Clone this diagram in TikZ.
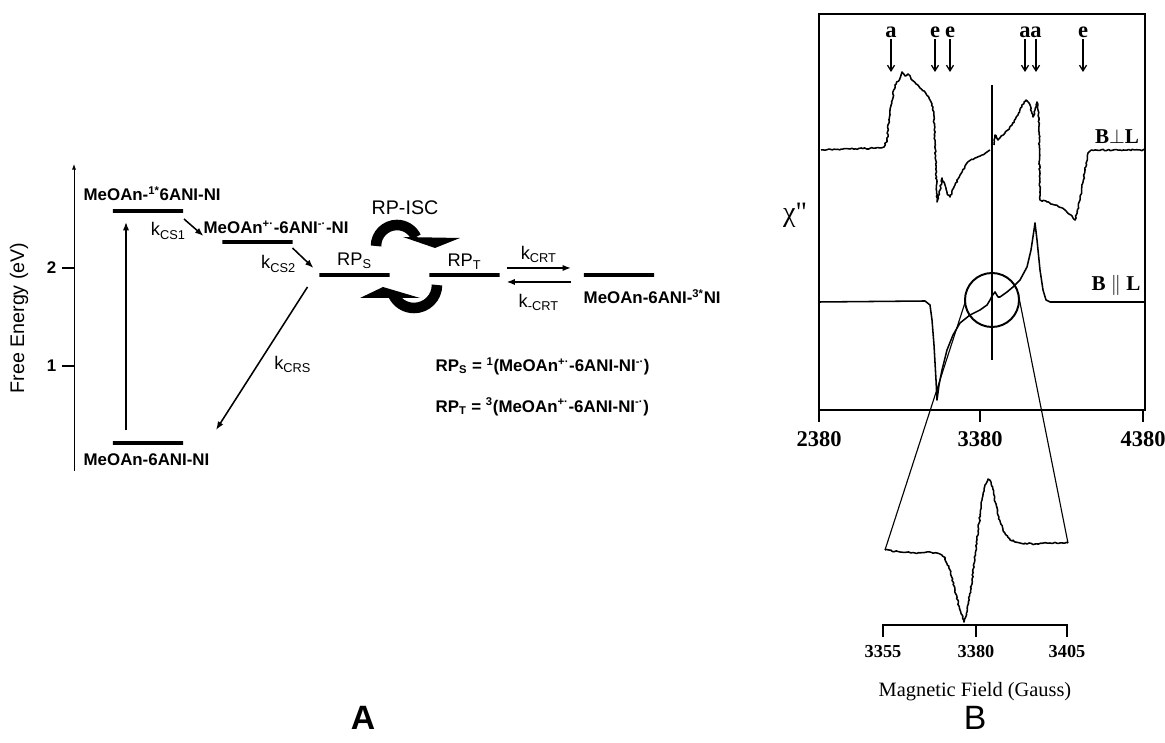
\documentclass[tikz,border=0pt]{standalone}
\usepackage{fontspec}
\setmainfont{Liberation Sans}
\newfontfamily\serifB{Liberation Serif}
\usetikzlibrary{arrows.meta, positioning, calc, decorations.pathmorphing}

\begin{document}
\begin{tikzpicture}[
    x=0.025cm, y=0.025cm,
    >={Latex[length=6pt, width=4.5pt]},
    elevel/.style={draw, line width=2.2pt, minimum width=1.75cm, minimum height=0pt, inner sep=0pt, outer sep=0pt},
    statelbl/.style={font=\fontsize{12}{14}\selectfont\bfseries, inner sep=1pt},
    ratelbl/.style={font=\fontsize{13}{15}\selectfont, inner sep=1pt},
    ratearrow/.style={->, line width=1.1pt},
    isc/.style={line width=7.5pt},
    axisnum/.style={font=\serifB\bfseries\fontsize{16}{18}\selectfont, inner sep=0pt},
    smallnum/.style={font=\serifB\bfseries\fontsize{13}{15}\selectfont, inner sep=0pt},
    peaklbl/.style={font=\serifB\bfseries\fontsize{16}{18}\selectfont, inner sep=1pt},
    peakarrow/.style={-{Straight Barb[length=4pt, width=5pt]}, line width=0.9pt},
    spectrum/.style={line width=1.1pt, line join=round},
    noisy/.style={decorate, decoration={random steps, segment length=1.3pt, amplitude=0.5pt}},
]
\pgfmathsetseed{7}
\useasboundingbox (0,0) rectangle (1165,743);

% ---------- Panel A: energy levels ----------
\draw[-{Latex[length=4pt, width=3pt]}, line width=0.7pt] (74,272) -- (74,579);
\foreach \ty/\tv in {475/2, 377/1}
  \draw[line width=2pt] (74,\ty) -- (62,\ty) node[statelbl, left=2pt] {\tv};
\node[font=\fontsize{14}{16}\selectfont] (ylbl) at (19,425) [rotate=90] {Free Energy (eV)};

% levels
\node[elevel] (s1) at (148,532) {};
\node[elevel] (s2) at (257.5,501) {};
\node[elevel] (rps) at (354.5,468) {};
\node[elevel] (rpt) at (464.5,468) {};
\node[elevel] (t3) at (619,468) {};
\node[elevel] (g) at (148,300) {};

% level labels
\node[statelbl, anchor=west] (s1lbl) at (82,549) {MeOAn-\textsuperscript{1*}6ANI-NI};
\node[statelbl, anchor=west] (s2lbl) at (202,516) {MeOAn\textsuperscript{+·}-6ANI\textsuperscript{-·}-NI};
\node[statelbl, anchor=west] (t3lbl) at (582,446) {MeOAn-6ANI-\textsuperscript{3*}NI};
\node[statelbl, anchor=west] (glbl) at (82,283) {MeOAn-6ANI-NI};
\node[ratelbl, above=3pt of rps] (rpslbl) {RP\textsubscript{S}};
\node[ratelbl, above=3pt of rpt] (rptlbl) {RP\textsubscript{T}};

% rate arrows
\draw[ratearrow] ([shift={(-22,13)}]g.center) -- ([shift={(-22,-11)}]s1.center);
\draw[ratearrow] ([shift={(1,-8)}]s1.east) -- ([shift={(-19,6)}]s2.west)
  node[ratelbl, pos=0.7, left=7pt] {k\textsubscript{CS1}};
\draw[ratearrow] ([shift={(0,-6)}]s2.east) -- ([shift={(-6,7)}]rps.west)
  node[ratelbl, pos=0.8, left=8pt] {k\textsubscript{CS2}};
\draw[ratearrow] ([shift={(-12,-12)}]rps.west) -- ([shift={(33,13)}]g.east)
  node[ratelbl, pos=0.54, right=10pt] {k\textsubscript{CRS}};
\draw[ratearrow] ([shift={(7,7)}]rpt.east) -- ([shift={(-13,7)}]t3.west)
  node[ratelbl, midway, above=2pt] {k\textsubscript{CRT}};
\draw[ratearrow] ([shift={(-13,-7)}]t3.west) -- ([shift={(7,-7)}]rpt.east)
  node[ratelbl, midway, below=7pt] {k\textsubscript{-CRT}};

% intersystem crossing
\draw[isc] (376,497) arc[start angle=180, end angle=25, radius=21];
\fill (403,506) -- (460,505) -- (435,495) -- cycle;
\draw[isc] (437,458) arc[start angle=0, end angle=-155, radius=23];
\fill (360,445) -- (420,445) -- (383,456) -- cycle;
\node[font=\fontsize{14}{16}\selectfont, inner sep=1pt] (isclbl) at (405,535) {RP-ISC};

% radical pair definitions
\node[statelbl, anchor=west] (rpsdef) at (434,377) {RP\textsubscript{S} = \textsuperscript{1}(MeOAn\textsuperscript{+·}-6ANI-NI\textsuperscript{-·})};
\node[statelbl, below=0.5cm of rpsdef.south west, anchor=north west] (rptdef) {RP\textsubscript{T} = \textsuperscript{3}(MeOAn\textsuperscript{+·}-6ANI-NI\textsuperscript{-·})};

\node[font=\fontsize{24}{26}\selectfont\bfseries] (pa) at (363,25) {A};

% ---------- Panel B: EPR spectra ----------
\draw[line width=1.6pt] (819,333) rectangle (1145,729);
\foreach \tx/\tv in {819/2380, 980/3380, 1143/4380}
  \draw[line width=1.6pt] (\tx,333) -- (\tx,321) node[axisnum, below=6pt] {\tv};
\node[font=\serifB\fontsize{20}{22}\selectfont] (chi) at (795,528) {χ"};

% peak markers
\foreach \px/\tag in {891/a, 935/e, 950/e, 1025/a, 1036/a, 1083/e} {
  \node[peaklbl] (pk\px) at (\px,711) {\tag};
  \draw[peakarrow] (pk\px.south) -- (\px,671);
}

% B perpendicular L
\draw[spectrum, noisy] (821,593) -- (850,594) -- (880,595) -- (884,596) -- (887,603) -- (890,633)
  -- (895,658) -- (900,665) -- (902,671) -- (905,667) -- (908,669) -- (912,663) -- (916,659)
  -- (920,655) -- (925,651) -- (930,643) -- (933,636) -- (935,603) -- (937,541) -- (940,553)
  -- (942,565) -- (945,558) -- (948,548) -- (950,546) -- (955,558) -- (960,568) -- (967,580)
  -- (975,585) -- (982,588) -- (987,591) -- (990,593);
\draw[spectrum, noisy] (994,598) -- (995,608) -- (998,603) -- (1005,610) -- (1012,618) -- (1018,628)
  -- (1022,638) -- (1026,643) -- (1029,640) -- (1033,626) -- (1035,633) -- (1037,641)
  -- (1039,623) -- (1040,543) -- (1047,541) -- (1055,538) -- (1065,533) -- (1072,527)
  -- (1075,523) -- (1080,543) -- (1085,573) -- (1088,590) -- (1092,593) -- (1120,593) -- (1145,593);
\node[font=\serifB\bfseries\fontsize{15}{17}\selectfont, inner sep=0pt] (perp) at (1117,606) {B$\perp$L};

% central line
\draw[line width=1.5pt] (992,658) -- (992,383);

% B parallel L
\draw[spectrum] (819,441) -- (925,442) -- (930,438) -- (932,423) -- (934,398) -- (936,363)
  -- (937,343) -- (939,358) -- (942,373) -- (947,393) -- (953,408) -- (960,420) -- (970,428)
  -- (980,433) -- (987,438) -- (990,443) -- (992,447) -- (995,451) -- (998,446) -- (1000,446)
  -- (1007,451) -- (1013,456) -- (1020,463) -- (1027,476) -- (1031,493) -- (1034,513)
  -- (1035,520) -- (1037,503) -- (1040,473) -- (1043,453) -- (1046,443) -- (1050,441) -- (1145,441);
\node[font=\serifB\bfseries\fontsize{15}{17}\selectfont, inner sep=0pt] (par) at (1116,458) {B $\|$ L};

% magnified region
\node[draw, circle, line width=1.4pt, minimum size=1.35cm, inner sep=0pt, outer sep=0pt] (zoomc) at (992,443) {};
\coordinate (inL) at (885,193);
\coordinate (inR) at (1068,200);
\draw[line width=0.8pt] (zoomc.185) -- (inL);
\draw[line width=0.8pt] (zoomc.15) -- (inR);

\draw[spectrum, noisy] (inL) -- (900,191) -- (915,190) -- (930,191) -- (940,189) -- (945,185)
  -- (950,173) -- (955,153) -- (960,133) -- (964,121) -- (967,131) -- (972,163) -- (977,203)
  -- (982,243) -- (985,258) -- (988,264) -- (991,261) -- (994,248) -- (998,228) -- (1003,213)
  -- (1010,203) -- (1020,200) -- (1035,199) -- (1050,200) -- (inR);

% inset scale
\draw[line width=2pt] (883,118) -- (1067,118);
\foreach \tx/\tv in {883/3355, 976/3380, 1067/3405}
  \draw[line width=1.6pt] (\tx,119) -- (\tx,106) node[smallnum, below=5pt] {\tv};
\node[font=\serifB\fontsize{14.5}{16}\selectfont] (bx) at (975,51) {Magnetic Field (Gauss)};

\node[font=\fontsize{24}{26}\selectfont] (pb) at (975,25) {B};
\end{tikzpicture}
\end{document}
